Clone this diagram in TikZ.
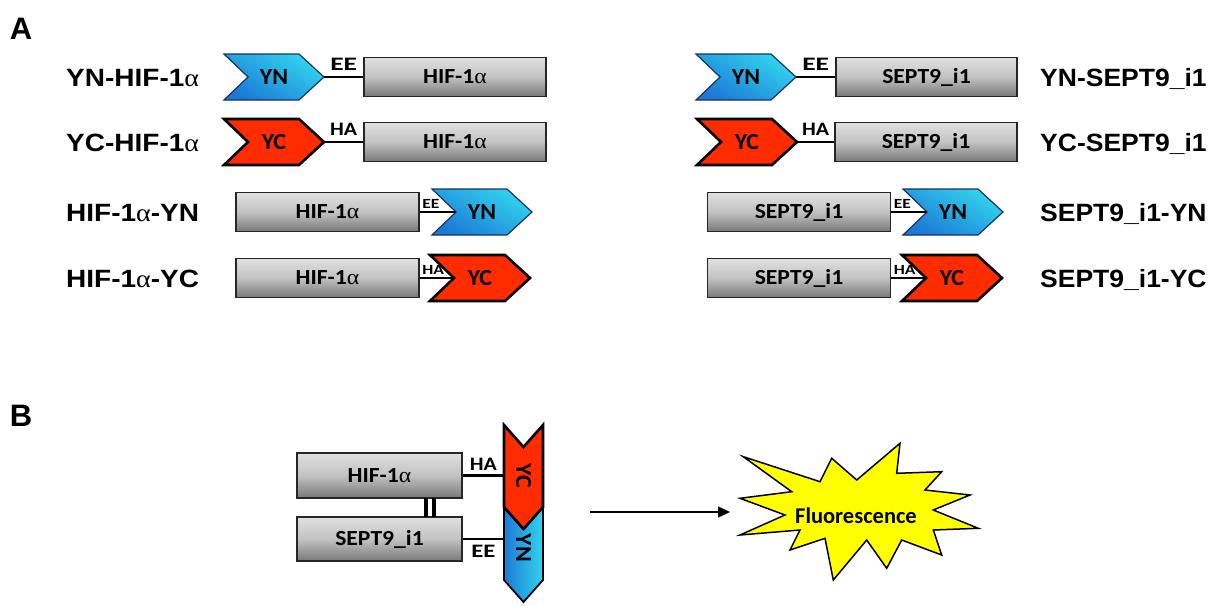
\documentclass[tikz,border=0pt]{standalone}
\usepackage{fontspec}
\setmainfont{Liberation Sans}
\newfontfamily\calfont{Carlito}
\newfontfamily\grkfont{Liberation Serif}
\usetikzlibrary{arrows.meta,calc}

\definecolor{ynlight}{RGB}{50,212,238}
\definecolor{yndark}{RGB}{28,122,214}
\definecolor{ynedge}{RGB}{24,50,96}
\definecolor{ycbright}{RGB}{255,44,0}
\definecolor{ycdark}{RGB}{150,18,0}
\definecolor{boxtop}{RGB}{224,224,224}
\definecolor{boxmid}{RGB}{194,194,194}
\definecolor{boxbot}{RGB}{120,120,120}
\definecolor{starfill}{RGB}{255,255,0}

\pgfdeclareradialshading{ycglow}{\pgfpoint{0bp}{0bp}}{%
  color(0bp)=(ycbright); color(32bp)=(ycbright); color(44bp)=(ycdark); color(50bp)=(ycdark)}

\newcommand\al{{\grkfont\mdseries α}}
\newcommand\wide[2][1.1]{\scalebox{#1}[1]{#2}}

\tikzset{
  panel/.style={font=\fontsize{31}{31}\selectfont\bfseries, inner sep=0pt},
  rowlabel/.style={font=\fontsize{25}{25}\selectfont\bfseries, inner sep=0pt, anchor=base west},
  innerfont/.style={font=\calfont\bfseries\fontsize{21.5}{21.5}\selectfont, text height=13.8pt, text depth=0pt},
  graybox/.style={innerfont, draw=black!85, line width=1.2pt, top color=boxtop,
    bottom color=boxbot, middle color=boxmid, minimum height=39pt, inner sep=0pt},
  chevtext/.style={font=\calfont\bfseries\fontsize{23}{23}\selectfont, text height=14.8pt,
    text depth=0pt, inner sep=0pt},
  ynfill/.style={draw=ynedge, line width=1.2pt, line join=miter, top color=ynlight,
    bottom color=yndark, shading angle=-30},
  ycfill/.style={shade, shading=ycglow, draw=black, line width=2.6pt, line join=miter},
  linker/.style={draw=black, line width=1.4pt},
  tag/.style={font=\calfont\bfseries\fontsize{19}{19}\selectfont, inner sep=0pt},
  smalltag/.style={font=\calfont\bfseries\fontsize{14}{14}\selectfont, inner sep=0pt},
  bond/.style={draw=black, line width=2.6pt},
  starstyle/.style={draw=black, line width=1.5pt, fill=starfill, line join=miter},
}

% right-pointing tag chevron: name, left x, centre y, fill style, text
\newcommand\chevron[5]{%
  \path[#4] (#2,#3) ++(0,-23) -- ++(75,0) -- ++(25,23) -- ++(-25,23) -- ++(-75,0) -- ++(24,-23) -- cycle;
  \coordinate (#1-notch) at ($(#2,#3)+(24,0)$);
  \coordinate (#1-tip) at ($(#2,#3)+(100,0)$);
  \node[chevtext] (#1) at ($(#2,#3)+(50,0)$) {\wide[1.04]{#5}};
}

\begin{document}
\begin{tikzpicture}[x=1pt,y=-1pt]
\useasboundingbox (0,0) rectangle (1210,605);

% ---------------- panel A ----------------
\node[panel] (panA) at (21,29) {A};

% row labels
\node[rowlabel] (lab1) at (66,86) {\wide[1.12]{YN-HIF-1\al}};
\node[rowlabel] (lab2) at (66,151) {\wide[1.12]{YC-HIF-1\al}};
\node[rowlabel] (lab3) at (66,221) {\wide[1.12]{HIF-1\al-YN}};
\node[rowlabel] (lab4) at (66,287) {\wide[1.12]{HIF-1\al-YC}};
\node[rowlabel] (lab5) at (1040,86) {\wide[1.06]{YN-SEPT9\_i1}};
\node[rowlabel] (lab6) at (1040,151) {\wide[1.06]{YC-SEPT9\_i1}};
\node[rowlabel] (lab7) at (1040,221) {\wide[1.06]{SEPT9\_i1-YN}};
\node[rowlabel] (lab8) at (1040,287) {\wide[1.06]{SEPT9\_i1-YC}};

% HIF-1alpha constructs
\chevron{ynA1}{224}{77}{ynfill}{YN}
\node[graybox, minimum width=182pt] (hifA1) at (455,77) {\wide{HIF-1\al}};
\draw[linker] (ynA1-tip) -- node[tag, above=6pt] {\wide[1.45]{EE}} (hifA1.west);

\chevron{ycA2}{224}{142}{ycfill}{YC}
\node[graybox, minimum width=182pt] (hifA2) at (455,142) {\wide{HIF-1\al}};
\draw[linker] (ycA2-tip) -- node[tag, above=6pt] {\wide[1.15]{HA}} (hifA2.west);

\node[graybox, minimum width=183pt] (hifA3) at (327.5,212) {\wide{HIF-1\al}};
\chevron{ynA3}{432}{212}{ynfill}{YN}
\draw[linker] (hifA3.east) -- (ynA3-notch)
  node[smalltag, pos=0, anchor=south west, xshift=2pt, yshift=2.5pt] {\wide[1.25]{EE}};

\node[graybox, minimum width=183pt] (hifA4) at (327.5,278) {\wide{HIF-1\al}};
\chevron{ycA4}{430}{278}{ycfill}{YC}
\draw[linker] (hifA4.east) -- (ycA4-notch)
  node[smalltag, pos=0, anchor=south west, xshift=2pt, yshift=2.5pt] {\wide[1.25]{HA}};

% SEPT9_i1 constructs
\chevron{ynS1}{696}{77}{ynfill}{YN}
\node[graybox, minimum width=181pt] (sepA1) at (926.5,77) {\wide{SEPT9\_i1}};
\draw[linker] (ynS1-tip) -- node[tag, above=6pt] {\wide[1.45]{EE}} (sepA1.west);

\chevron{ycS2}{697}{142}{ycfill}{YC}
\node[graybox, minimum width=182pt] (sepA2) at (926,142) {\wide{SEPT9\_i1}};
\draw[linker] (ycS2-tip) -- node[tag, above=6pt] {\wide[1.15]{HA}} (sepA2.west);

\node[graybox, minimum width=183pt] (sepA3) at (799,212) {\wide{SEPT9\_i1}};
\chevron{ynS3}{903}{212}{ynfill}{YN}
\draw[linker] (sepA3.east) -- (ynS3-notch)
  node[smalltag, pos=0, anchor=south west, xshift=2pt, yshift=2.5pt] {\wide[1.25]{EE}};

\node[graybox, minimum width=183pt] (sepA4) at (799,278) {\wide{SEPT9\_i1}};
\chevron{ycS4}{902}{278}{ycfill}{YC}
\draw[linker] (sepA4.east) -- (ycS4-notch)
  node[smalltag, pos=0, anchor=south west, xshift=2pt, yshift=2.5pt] {\wide[1.25]{HA}};

% ---------------- panel B ----------------
\node[panel] (panB) at (21,416) {B};

\node[graybox, minimum width=165pt, minimum height=45pt] (hifB) at (379.5,475.5) {\wide{HIF-1\al}};
\node[graybox, minimum width=165pt, minimum height=44pt] (sepB) at (379.5,539) {\wide{SEPT9\_i1}};

% interaction sign between the two proteins
\draw[line width=3.8pt] ($(hifB.south)+(46.5,-1)$) -- ($(sepB.north)+(46.5,1)$);
\draw[line width=3.8pt] ($(hifB.south)+(54.5,-1)$) -- ($(sepB.north)+(54.5,1)$);

% reconstituted YFP halves (vertical)
\path[draw=black, line width=1.8pt, line join=miter, left color=yndark, right color=ynlight]
  (504,507) -- (523.5,529) -- (543,507) -- (543,580) -- (523.5,602) -- (504,580) -- cycle;
\path[ycfill] (504,425) -- (523.5,447) -- (543,425) -- (543,507) -- (523.5,529) -- (504,507) -- cycle;
\node[chevtext, rotate=-90] (ycB) at (523.5,476) {\wide[1.04]{YC}};
\node[chevtext, rotate=-90] (ynB) at (523.5,548) {\wide[1.04]{YN}};
\coordinate (ycB-in) at (504,475.5);
\coordinate (ynB-in) at (504,539);

\draw[bond] (hifB.east) -- node[tag, above=4pt] {\wide[1.15]{HA}} (ycB-in);
\draw[bond] (sepB.east) -- node[tag, below=5pt] {\wide[1.3]{EE}} (ynB-in);

% reaction arrow
\coordinate (arrowfrom) at (590,512);
\coordinate (arrowto) at (730,512);
\draw[line width=1.5pt, -{Triangle[length=12pt,width=11pt]}] (arrowfrom) -- (arrowto);

% fluorescence burst
\path[starstyle] (743.3,456.7) -- (820,481.7) -- (831.7,458.3) -- (856.7,480) -- (900,443.3)
  -- (896.7,473.3) -- (941.7,471.7) -- (925,490) -- (970,495) -- (933.3,510) -- (978.3,528.3)
  -- (933.3,530) -- (941.7,555) -- (901.7,540) -- (886.7,568.3) -- (866.7,540) -- (833.3,580)
  -- (825,538.3) -- (790,550) -- (800,530) -- (740,535) -- (785,515) -- (740,498.3)
  -- (791.7,491.7) -- cycle;
\node[font=\calfont\bfseries\fontsize{22.5}{22.5}\selectfont, inner sep=0pt] (fluor) at (856,516) {Fluorescence};

\end{tikzpicture}
\end{document}
